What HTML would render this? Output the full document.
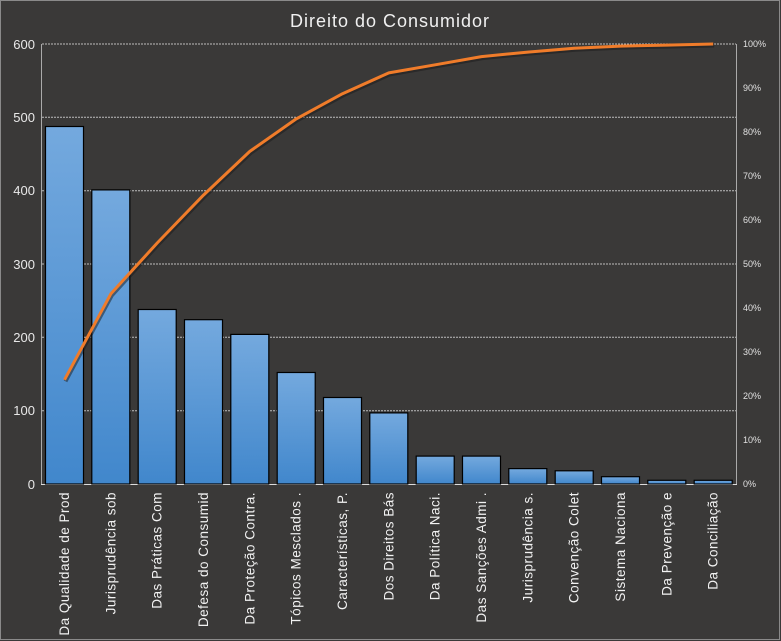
<!DOCTYPE html>
<html><head><meta charset="utf-8"><style>
html,body{margin:0;padding:0;background:#3a3938;}
svg{display:block;}
text{font-family:"Liberation Sans",sans-serif;}
</style></head><body>
<svg width="781" height="641" viewBox="0 0 781 641" xmlns="http://www.w3.org/2000/svg">
<defs>
<linearGradient id="g" x1="0" y1="0" x2="0" y2="1">
<stop offset="0" stop-color="#74a9de"/><stop offset="1" stop-color="#4187cc"/>
</linearGradient>
</defs>
<rect x="0" y="0" width="781" height="641" fill="#3a3938"/>
<rect x="0.5" y="0.5" width="779" height="639" fill="none" stroke="#8a8a8a" stroke-width="1"/>
<text x="390" y="27" fill="#f0f0f0" font-size="18" text-anchor="middle" letter-spacing="1">Direito do Consumidor</text>
<g stroke="#bdbdbd" stroke-width="1" stroke-dasharray="2,1">
<line x1="42" x2="736" y1="44" y2="44"/>
<line x1="42" x2="736" y1="117.3" y2="117.3"/>
<line x1="42" x2="736" y1="190.7" y2="190.7"/>
<line x1="42" x2="736" y1="264" y2="264"/>
<line x1="42" x2="736" y1="337.3" y2="337.3"/>
<line x1="42" x2="736" y1="410.7" y2="410.7"/>
</g>
<line x1="41.5" x2="41.5" y1="44" y2="484" stroke="#aaa"/>
<line x1="736.5" x2="736.5" y1="44" y2="484" stroke="#aaa"/>
<line x1="41" x2="737" y1="484.5" y2="484.5" stroke="#ddd"/>
<g fill="#e8e8e8" font-size="13" text-anchor="end">
<text x="35" y="49">600</text><text x="35" y="122">500</text><text x="35" y="195">400</text>
<text x="35" y="269">300</text><text x="35" y="342">200</text><text x="35" y="415">100</text><text x="35" y="489">0</text>
</g>
<g fill="#e0e0e0" font-size="9">
<text x="743" y="47">100%</text><text x="743" y="91">90%</text><text x="743" y="135">80%</text>
<text x="743" y="179">70%</text><text x="743" y="223">60%</text><text x="743" y="267">50%</text>
<text x="743" y="311">40%</text><text x="743" y="355">30%</text><text x="743" y="399">20%</text>
<text x="743" y="443">10%</text><text x="743" y="487">0%</text>
</g>
<g fill="url(#g)" stroke="#000" stroke-width="1.2">
<rect x="45.5" y="126.5" width="38" height="357.5"/>
<rect x="91.8" y="189.9" width="38" height="294.1"/>
<rect x="138.2" y="309.5" width="38" height="174.5"/>
<rect x="184.5" y="319.7" width="38" height="164.3"/>
<rect x="230.8" y="334.4" width="38" height="149.6"/>
<rect x="277.2" y="372.5" width="38" height="111.5"/>
<rect x="323.5" y="397.5" width="38" height="86.5"/>
<rect x="369.8" y="412.9" width="38" height="71.1"/>
<rect x="416.2" y="456.1" width="38" height="27.9"/>
<rect x="462.5" y="456.1" width="38" height="27.9"/>
<rect x="508.8" y="468.6" width="38" height="15.4"/>
<rect x="555.2" y="470.8" width="38" height="13.2"/>
<rect x="601.5" y="476.7" width="38" height="7.3"/>
<rect x="647.8" y="480.3" width="38" height="3.7"/>
<rect x="694.2" y="480.3" width="38" height="3.7"/>
</g>
<polyline fill="none" stroke="#1a1a1a" stroke-opacity="0.5" stroke-width="4" transform="translate(1,1.5)" points="64.5,379.8 110.8,293.9 157.2,243 203.5,195.1 249.8,151.4 296.2,118.9 342.5,93.7 388.8,72.9 435.2,64.8 481.5,56.6 527.8,52.1 574.2,48.3 620.5,46.1 666.8,45.1 713.2,44"/>
<polyline fill="none" stroke="#f07c2a" stroke-width="3" stroke-linejoin="round" points="64.5,379.8 110.8,293.9 157.2,243 203.5,195.1 249.8,151.4 296.2,118.9 342.5,93.7 388.8,72.9 435.2,64.8 481.5,56.6 527.8,52.1 574.2,48.3 620.5,46.1 666.8,45.1 713.2,44"/>
<g fill="#f2f2f2" font-size="13.5" letter-spacing="0.5" text-anchor="end">
<text transform="translate(69,492) rotate(-90)">Da Qualidade de Prod</text>
<text transform="translate(115.3,492) rotate(-90)">Jurisprudência sob</text>
<text transform="translate(161.7,492) rotate(-90)">Das Práticas Com</text>
<text transform="translate(208,492) rotate(-90)">Defesa do Consumid</text>
<text transform="translate(254.3,492) rotate(-90)">Da Proteção Contra.</text>
<text transform="translate(300.7,492) rotate(-90)">Tópicos Mesclados  .</text>
<text transform="translate(347,492) rotate(-90)">Características, P.</text>
<text transform="translate(393.3,492) rotate(-90)">Dos Direitos Bás</text>
<text transform="translate(439.7,492) rotate(-90)">Da Política Naci.</text>
<text transform="translate(486,492) rotate(-90)">Das Sanções Admi .</text>
<text transform="translate(532.3,492) rotate(-90)">Jurisprudência  s.</text>
<text transform="translate(578.7,492) rotate(-90)">Convenção Colet</text>
<text transform="translate(625,492) rotate(-90)">Sistema Naciona</text>
<text transform="translate(671.3,492) rotate(-90)">Da Prevenção e</text>
<text transform="translate(717.7,492) rotate(-90)">Da Conciliação</text>
</g>
</svg>
</body></html>
